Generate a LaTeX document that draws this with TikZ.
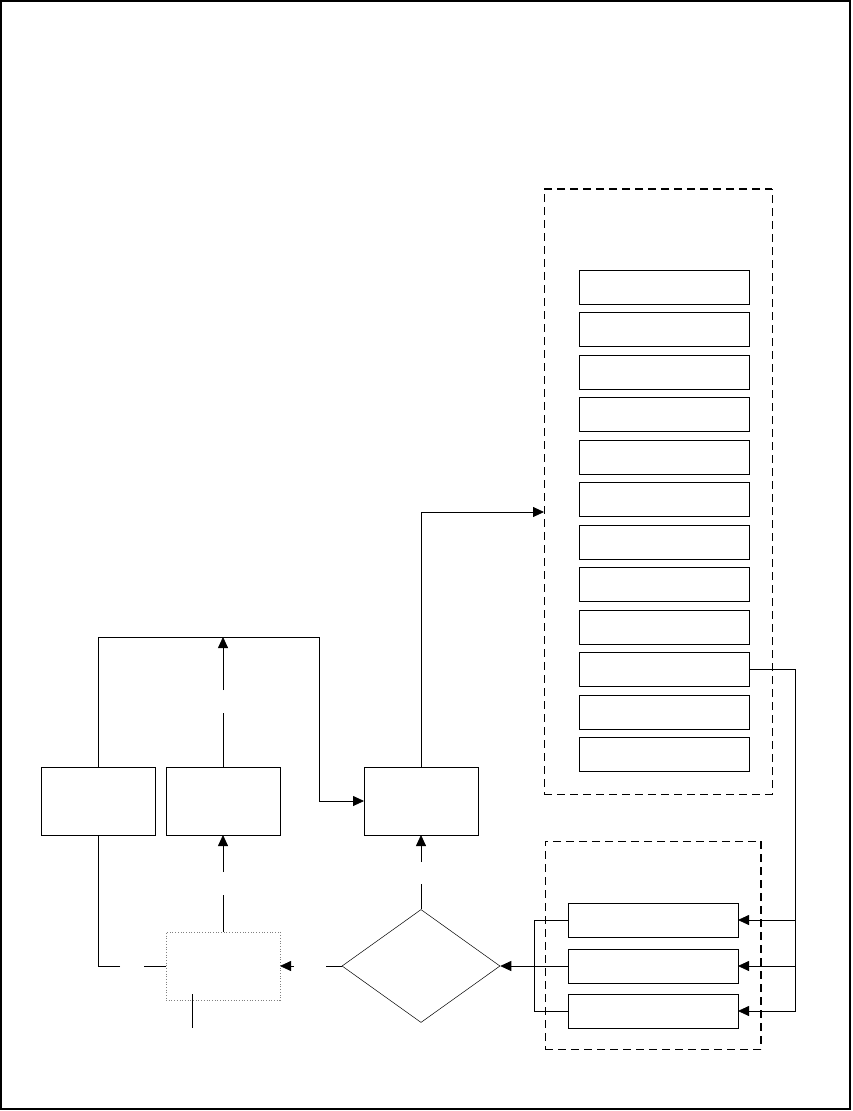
\documentclass[tikz,border=0pt]{standalone}
\usetikzlibrary{arrows.meta,shapes.geometric}
\begin{document}
\begin{tikzpicture}[x=1pt,y=-1pt,line width=0.8pt,
  box/.style={draw,inner sep=0pt,outer sep=0pt,minimum width=114pt,minimum height=68pt},
  item/.style={draw,inner sep=0pt,outer sep=0pt,minimum width=170pt,minimum height=34pt},
  grp/.style={draw,inner sep=0pt,outer sep=0pt,dash pattern=on 8pt off 5pt},
  arr/.style={-{Triangle[length=11pt,width=10pt]}}]
\useasboundingbox (0,0) rectangle (852,1111);
\draw[line width=1.2pt] (1,1) rectangle (850,1109);
% groups
\node[grp,minimum width=228pt,minimum height=605pt] (grpA) at (658,491.5) {};
\node[grp,minimum width=216pt,minimum height=208pt] (grpB) at (653,945) {};
\draw[line width=1.3pt,dash pattern=on 8pt off 5pt] (grpA.north west) -- (grpA.north east);
\draw[line width=1.3pt,dash pattern=on 8pt off 5pt] (grpB.north east) -- (grpB.south east);
% list items
\foreach \i in {1,...,12}{
  \node[item] (L\i) at (664,{287+42.5*(\i-1)}) {};
}
% sub items
\node[item] (S1) at (653,920) {};
\node[item] (S2) at (653,966) {};
\node[item] (S3) at (653,1011) {};
% main boxes
\node[box] (B1) at (98,801) {};
\node[box] (B2) at (223,801) {};
\node[box] (B3) at (421,801) {};
\node[box,draw=gray,dotted,line width=0.7pt] (DB) at (223,966) {};
\node[diamond,draw,line width=0.5pt,inner sep=0pt,minimum width=158pt,minimum height=113pt] (D) at (421,966) {};
% coordinates
\coordinate (inA) at (544,512);
\coordinate (rbus) at (795,0);
\coordinate (lbus) at (534,0);
\coordinate (topL) at (98,637);
\coordinate (topR) at (319,637);
\coordinate (g1a) at (421,884); \coordinate (g1b) at (421,862);
\coordinate (g2a) at (326,966); \coordinate (g2b) at (294,966);
\coordinate (g3a) at (223,895); \coordinate (g3b) at (223,872);
\coordinate (g4a) at (144,966); \coordinate (g4b) at (120,966);
\coordinate (g5a) at (223,713); \coordinate (g5b) at (223,690);
\coordinate (tA) at (192,994); \coordinate (tB) at (192,1028);
% connectors
\draw[arr] (B3.north) |- (inA);
\draw[arr] (L10.east) -| (rbus |- S3.east) -- (S3.east);
\draw[arr] (rbus |- S1.east) -- (S1.east);
\draw[arr] (rbus |- S2.east) -- (S2.east);
\draw (S1.west) -| (lbus |- S3.west) -- (S3.west);
\draw[arr] (S2.west) -- (D.east);
\draw (D.north) -- (g1a);
\draw[arr] (g1b) -- (B3.south);
\draw (D.west) -- (g2a);
\draw[arr] (g2b) -- (DB.east);
\draw (DB.north) -- (g3a);
\draw[arr] (g3b) -- (B2.south);
\draw (DB.west) -- (g4a);
\draw (g4b) -| (B1.south);
\draw (B2.north) -- (g5a);
\draw[arr] (g5b) -- (B2.north |- topL);
\draw[arr] (B1.north) |- (topR) |- (B3.west);
\draw (tA) -- (tB);
\end{tikzpicture}
\end{document}
